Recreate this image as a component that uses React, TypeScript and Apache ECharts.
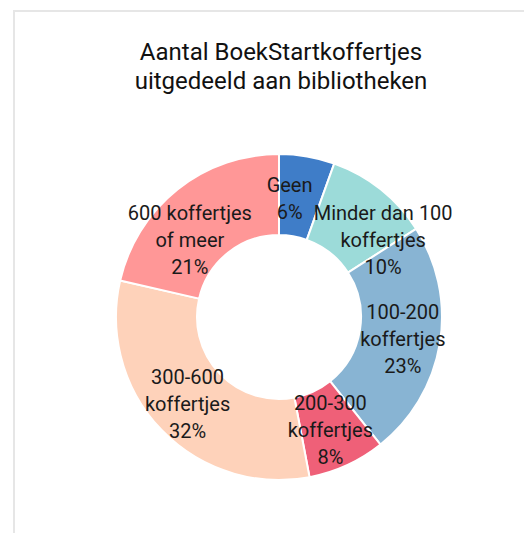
import React, { useEffect, useRef } from "react";
import * as echarts from "echarts";

const categories = [
  "Geen",
  "Minder dan 100\nkoffertjes",
  "100-200\nkoffertjes",
  "200-300\nkoffertjes",
  "300-600\nkoffertjes",
  "600 koffertjes\nof meer",
];
const values = [5.5, 10.4, 23.4, 7.7, 31.6, 21.4];
const colors = ["#3f7dc8", "#9cdbd9", "#88b4d3", "#ef6078", "#fed2ba", "#ff9797"];
const titleLines = ["Aantal BoekStartkoffertjes", "uitgedeeld aan bibliotheken"];
// label nudges (style only)
const labelNudge: [number, number][] = [
  [-11, 5],
  [26, 21],
  [0, 2],
  [-1, -1],
  [-1, 0],
  [-11, 21],
];

export default function App() {
  const ref = useRef<HTMLDivElement>(null);
  useEffect(() => {
    if (!ref.current) return;
    const chart = echarts.init(ref.current, undefined, { renderer: "svg" });
    const font = "Roboto, 'Noto Sans', sans-serif";
    chart.setOption({
      animation: false,
      backgroundColor: "#ffffff",
      title: {
        text: titleLines.join("\n"),
        left: 276,
        top: 32,
        textAlign: "center",
        textStyle: {
          fontFamily: font,
          fontSize: 24,
          fontWeight: "normal",
          color: "#111111",
          lineHeight: 29,
        },
      },
      graphic: [
        {
          type: "rect",
          shape: { x: 14, y: 11, width: 700, height: 700 },
          style: { fill: "none", stroke: "#e6e6e6", lineWidth: 2 },
          silent: true,
        },
      ],
      series: [
        {
          type: "pie",
          center: [279, 317],
          radius: [82, 163],
          startAngle: 90,
          clockwise: true,
          avoidLabelOverlap: false,
          itemStyle: { borderColor: "#ffffff", borderWidth: 2 },
          label: {
            position: "inner",
            fontFamily: font,
            fontSize: 20,
            lineHeight: 27,
            color: "#1a1a1a",
            align: "center",
            formatter: (p: any) => `${p.name}\n${Math.round(p.percent)}%`,
          },
          labelLayout: (p: any) => ({
            hideOverlap: false,
            dx: labelNudge[p.dataIndex][0],
            dy: labelNudge[p.dataIndex][1],
          }),
          labelLine: { show: false },
          emphasis: { disabled: true },
          data: categories.map((c, i) => ({
            name: c,
            value: values[i],
            itemStyle: { color: colors[i] },
          })),
        },
      ],
    });
    return () => chart.dispose();
  }, []);
  return (
    <div
      ref={ref}
      style={{ position: "fixed", left: 0, top: 0, width: 524, height: 533 }}
    />
  );
}
